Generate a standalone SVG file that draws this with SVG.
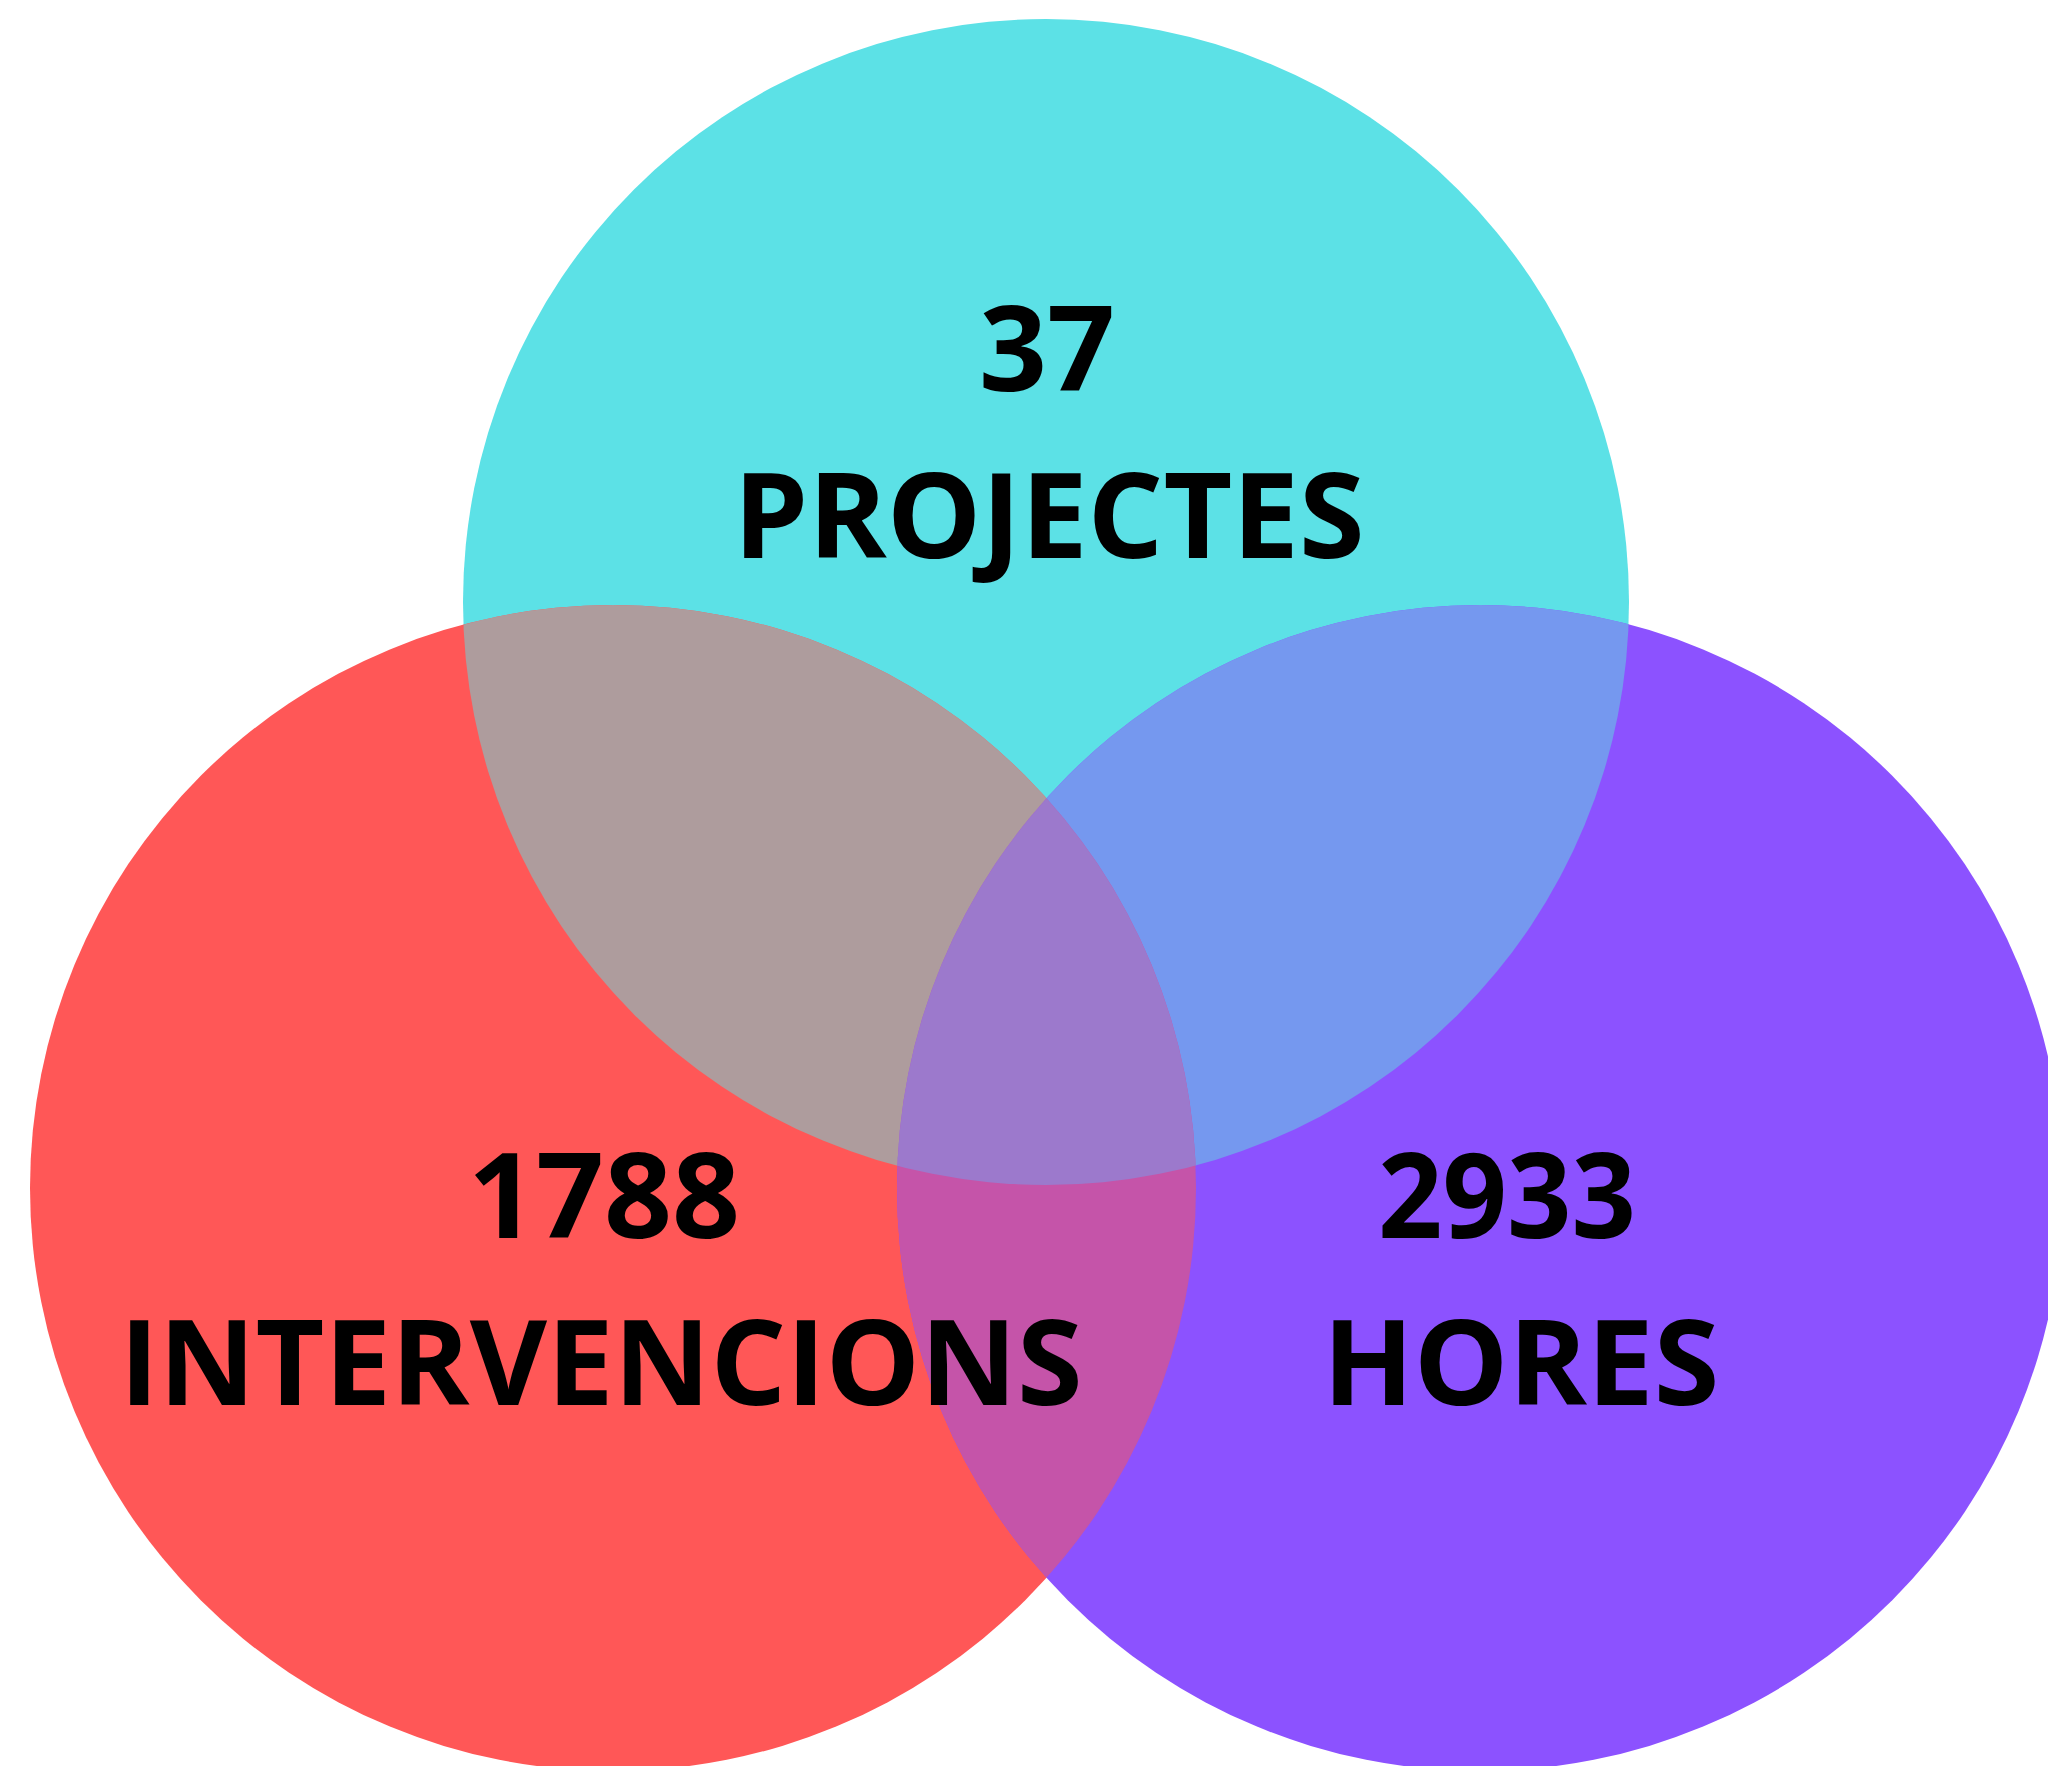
<svg xmlns="http://www.w3.org/2000/svg" width="2048" height="1766" viewBox="0 0 2048 1766">
<style>
.lbl{font-family:"Open Sans","Liberation Sans",sans-serif;font-weight:700;font-size:119px;fill:#000;text-anchor:middle}
</style>
<defs>
<clipPath id="cA"><circle cx="1046" cy="602" r="583"/></clipPath>
<clipPath id="cB"><circle cx="613" cy="1188" r="583"/></clipPath>
<clipPath id="cC"><circle cx="1480" cy="1188" r="583"/></clipPath>
</defs>
<rect width="2048" height="1766" fill="#ffffff"/>
<g id="circle-projectes"><circle cx="1046" cy="602" r="583" fill="#5CE1E6"/></g>
<g id="circle-intervencions"><circle cx="613" cy="1188" r="583" fill="#FF5757"/></g>
<g id="circle-hores"><circle cx="1480" cy="1188" r="583" fill="#8C52FF"/></g>
<g id="overlaps">
<circle cx="613" cy="1188" r="583" fill="#AE9C9D" clip-path="url(#cA)"/>
<circle cx="1480" cy="1188" r="583" fill="#7598EF" clip-path="url(#cA)"/>
<circle cx="1480" cy="1188" r="583" fill="#C554A9" clip-path="url(#cB)"/>
<g clip-path="url(#cA)"><circle cx="1480" cy="1188" r="583" fill="#9C79CC" clip-path="url(#cB)"/></g>
</g>
<g id="texts">
<text class="lbl" x="1047" y="390.5">37</text>
<text class="lbl" x="1049" y="558">PROJECTES</text>
<text class="lbl" x="604" y="1238">1788</text>
<text class="lbl" x="601" y="1405">INTERVENCIONS</text>
<text class="lbl" x="1507" y="1238" textLength="258" lengthAdjust="spacingAndGlyphs">2933</text>
<text class="lbl" x="1521" y="1405">HORES</text>
</g>
</svg>
